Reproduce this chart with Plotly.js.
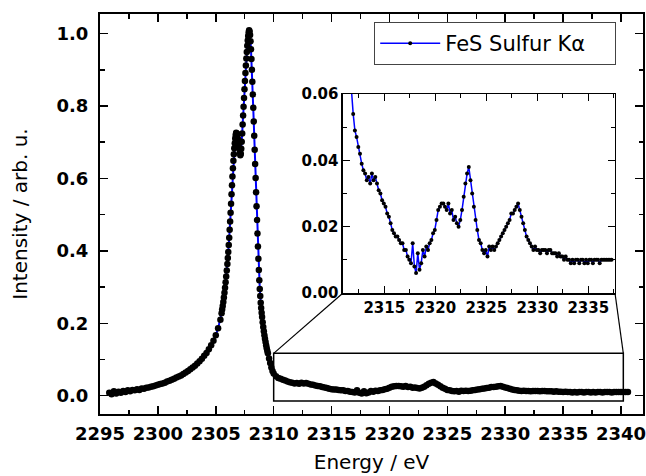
<!DOCTYPE html>
<html><head><meta charset="utf-8">
<script src="https://cdn.plot.ly/plotly-3.0.1.min.js"></script>
<style>html,body{margin:0;padding:0;background:#fff}#chart{width:646px;height:476px}</style>
</head><body><div id="chart"></div>
<script>
const seriesName = 'FeS Sulfur K\u03b1';
const energy = [
2295.8,2296.0,2296.2,2296.4,2296.6,2296.8,2297.0,2297.2,2297.4,2297.6,2297.8,2298.0,2298.2,2298.4,2298.6,2298.8,2299.0,2299.2,2299.4,2299.6,2299.8,
2300.0,2300.2,2300.4,2300.6,2300.8,2301.0,2301.2,2301.4,2301.6,2301.8,2302.0,2302.2,2302.4,2302.6,2302.8,2303.0,2303.2,2303.4,2303.6,2303.8,
2304.0,2304.2,2304.4,2304.6,2304.8,2305.0,2305.2,2305.4,2305.5,2305.55,2305.6,2305.65,2305.7,2305.75,2305.8,2305.85,2305.9,2305.95,
2306.0,2306.04,2306.08,2306.12,2306.16,2306.2,2306.24,2306.28,2306.32,2306.36,2306.4,2306.44,2306.48,2306.52,2306.56,2306.6,2306.64,2306.68,2306.72,2306.76,2306.8,2306.84,2306.88,2306.92,2306.96,
2307.0,2307.04,2307.08,2307.12,2307.16,2307.2,2307.24,2307.28,2307.32,2307.36,2307.4,2307.44,2307.48,2307.52,2307.56,2307.6,2307.64,2307.68,2307.72,2307.76,2307.8,2307.84,2307.88,2307.92,2307.96,
2308.0,2308.04,2308.08,2308.12,2308.16,2308.2,2308.24,2308.28,2308.32,2308.36,2308.4,2308.44,2308.48,2308.52,2308.56,2308.6,2308.64,2308.68,2308.72,2308.76,2308.8,2308.84,2308.88,2308.92,2308.96,
2309.0,2309.05,2309.1,2309.15,2309.2,2309.25,2309.3,2309.35,2309.4,2309.45,2309.5,2309.6,2309.7,2309.8,2309.9,
2310.0,2310.2,2310.4,2310.6,2310.8,2311.0,2311.2,2311.4,2311.6,2311.8,2312.0,2312.2,2312.4,2312.6,2312.8,2313.0,2313.2,2313.4,2313.6,2313.8,
2314.0,2314.2,2314.4,2314.6,2314.8,2315.0,2315.2,2315.4,2315.6,2315.8,2316.0,2316.2,2316.4,2316.6,2316.8,2317.0,2317.2,2317.4,2317.6,2317.8,
2318.0,2318.2,2318.4,2318.6,2318.8,2319.0,2319.2,2319.4,2319.6,2319.8,2320.0,2320.2,2320.4,2320.6,2320.8,2321.0,2321.2,2321.4,2321.6,2321.8,
2322.0,2322.2,2322.4,2322.6,2322.8,2323.0,2323.2,2323.4,2323.6,2323.8,2324.0,2324.2,2324.4,2324.6,2324.8,2325.0,2325.2,2325.4,2325.6,2325.8,
2326.0,2326.2,2326.4,2326.6,2326.8,2327.0,2327.2,2327.4,2327.6,2327.8,2328.0,2328.2,2328.4,2328.6,2328.8,2329.0,2329.2,2329.4,2329.6,2329.8,
2330.0,2330.2,2330.4,2330.6,2330.8,2331.0,2331.2,2331.4,2331.6,2331.8,2332.0,2332.2,2332.4,2332.6,2332.8,2333.0,2333.2,2333.4,2333.6,2333.8,
2334.0,2334.2,2334.4,2334.6,2334.8,2335.0,2335.2,2335.4,2335.6,2335.8,2336.0,2336.2,2336.4,2336.6,2336.8,2337.0,2337.2,2337.4,2337.6,2337.8,
2338.0,2338.2,2338.4,2338.6,2338.8,2339.0,2339.2,2339.4,2339.6,2339.8,2340.0,2340.2,2340.4,2340.6
];
const intensity = [
0.008,0.004,0.012,0.006,0.011,0.008,0.013,0.010,0.015,0.012,0.016,0.015,0.018,0.016,0.020,0.019,0.022,0.023,0.025,0.026,0.028,
0.030,0.032,0.034,0.036,0.039,0.041,0.044,0.047,0.050,0.053,0.056,0.060,0.064,0.068,0.073,0.078,0.083,0.089,0.095,0.102,
0.110,0.118,0.128,0.139,0.152,0.167,0.186,0.210,0.228,0.238,0.248,0.259,0.271,0.284,0.298,0.313,0.329,0.346,
0.364,0.380,0.397,0.416,0.436,0.458,0.481,0.505,0.530,0.556,0.581,0.605,0.628,0.649,0.667,0.683,0.697,0.710,0.720,0.726,0.724,0.716,0.722,0.708,0.697,
0.703,0.684,0.672,0.664,0.668,0.682,0.701,0.724,0.749,0.774,0.798,0.822,0.846,0.869,0.891,0.912,0.931,0.949,0.966,0.981,0.993,1.003,1.009,1.006,0.996,
0.979,0.957,0.930,0.900,0.867,0.832,0.795,0.757,0.718,0.679,0.640,0.601,0.562,0.523,0.485,0.448,0.412,0.378,0.347,0.319,0.295,0.275,0.257,0.242,0.229,
0.217,0.203,0.190,0.178,0.167,0.157,0.148,0.139,0.131,0.124,0.117,0.103,0.090,0.078,0.068,
0.061,0.054,0.049,0.047,0.044,0.042,0.039,0.037,0.036,0.034,0.035,0.033,0.036,0.034,0.035,0.033,0.031,0.030,0.028,0.027,
0.026,0.024,0.023,0.021,0.019,0.018,0.017,0.017,0.016,0.015,0.015,0.013,0.013,0.011,0.010,0.009,0.015,0.008,0.006,0.012,
0.007,0.009,0.013,0.011,0.014,0.013,0.015,0.016,0.018,0.019,0.022,0.025,0.026,0.027,0.027,0.026,0.025,0.027,0.024,0.025,
0.022,0.023,0.021,0.020,0.022,0.025,0.029,0.033,0.036,0.038,0.034,0.030,0.026,0.022,0.019,0.016,0.015,0.013,0.012,0.013,
0.011,0.014,0.013,0.014,0.013,0.014,0.015,0.016,0.017,0.018,0.019,0.020,0.021,0.022,0.024,0.024,0.025,0.026,0.027,0.025,
0.023,0.021,0.019,0.017,0.016,0.015,0.014,0.013,0.014,0.013,0.013,0.012,0.013,0.013,0.013,0.012,0.013,0.013,0.012,0.012,
0.012,0.011,0.012,0.011,0.011,0.010,0.011,0.010,0.010,0.009,0.010,0.009,0.010,0.010,0.009,0.010,0.010,0.009,0.010,0.009,
0.010,0.010,0.009,0.010,0.010,0.010,0.009,0.010,0.010,0.010,0.010,0.010,0.010,0.010
];
const zoomBoxX = [2310, 2340.2];
const zoomBoxY = [-0.0145, 0.117];
const insetTickVals = [2313.86, 2319.86, 2325.86, 2331.86, 2337.86];
const insetTickText = ['2315', '2320', '2325', '2330', '2335'];
const insetMinorVals = [2310.86, 2316.86, 2322.86, 2328.86, 2334.86, 2340.86];

const mainXRange = [2295, 2341.9];
const mainYRange = [-0.0505, 1.054];
const insetXDom = [0.4475, 0.9484];
const insetYDom = [0.3025, 0.8];

function px(v){ return (v - mainXRange[0]) / (mainXRange[1] - mainXRange[0]); }
function py(v){ return (v - mainYRange[0]) / (mainYRange[1] - mainYRange[0]); }

const font = 'DejaVu Sans, sans-serif';
const axisCommon = {
  showline: true, linecolor: '#000', linewidth: 2, mirror: 'ticks',
  ticks: 'inside', tickcolor: '#000', tickwidth: 1.5,
  showgrid: false, zeroline: false, ticklabeloverflow: 'allow'
};

const traces = [
  {x: energy, y: intensity, xaxis: 'x', yaxis: 'y', type: 'scatter', mode: 'lines+markers',
   line: {color: '#0000ff', width: 2}, marker: {color: '#000', size: 6.5}, showlegend: false, name: seriesName},
  {x: energy, y: intensity, xaxis: 'x2', yaxis: 'y2', type: 'scatter', mode: 'lines+markers',
   line: {color: '#0000ff', width: 1.5}, marker: {color: '#000', size: 4}, showlegend: true, name: seriesName}
];

const layout = {
  width: 646, height: 476,
  margin: {l: 100, r: 3, t: 14, b: 62},
  paper_bgcolor: '#fff', plot_bgcolor: '#fff',
  font: {family: font, color: '#000'},
  xaxis: Object.assign({}, axisCommon, {
    domain: [0, 1], anchor: 'y', range: mainXRange, tick0: 2295, dtick: 5, ticklen: 8,
    minor: {ticks: 'inside', dtick: 2.5, ticklen: 4.5, tickcolor: '#000', tickwidth: 1.5},
    tickfont: {size: 18, weight: 'bold', family: font}, ticklabelstandoff: 2,
    title: {text: 'Energy / eV', font: {size: 20, family: font}, standoff: 12}
  }),
  yaxis: Object.assign({}, axisCommon, {
    domain: [0, 1], anchor: 'x', range: mainYRange, tick0: 0, dtick: 0.2, tickformat: '.1f', ticklen: 8,
    minor: {ticks: 'inside', dtick: 0.1, ticklen: 4.5, tickcolor: '#000', tickwidth: 1.5},
    tickfont: {size: 18, weight: 'bold', family: font}, ticklabelstandoff: 6,
    title: {text: 'Intensity / arb. u.', font: {size: 20, family: font}, standoff: 24}
  }),
  xaxis2: Object.assign({}, axisCommon, {
    domain: insetXDom, anchor: 'y2', range: [2309, 2341], linewidth: 1.5,
    tickmode: 'array', tickvals: insetTickVals, ticktext: insetTickText, ticklen: 7,
    minor: {ticks: 'inside', tickvals: insetMinorVals, ticklen: 4, tickcolor: '#000', tickwidth: 1.2},
    tickfont: {size: 15, weight: 'bold', family: font}
  }),
  yaxis2: Object.assign({}, axisCommon, {
    domain: insetYDom, anchor: 'x2', range: [0, 0.06], linewidth: 1.5,
    tick0: 0, dtick: 0.02, tickformat: '.2f', ticklen: 7,
    minor: {ticks: 'inside', dtick: 0.01, ticklen: 4, tickcolor: '#000', tickwidth: 1.2},
    tickfont: {size: 15, weight: 'bold', family: font}
  }),
  legend: {x: 0.505, y: 0.98, xanchor: 'left', yanchor: 'top', bgcolor: '#fff', orientation: 'h',
    bordercolor: '#444', borderwidth: 1, itemwidth: 60, entrywidth: 165, entrywidthmode: 'pixels',
    font: {size: 21, family: font}},
  shapes: [
    {type: 'rect', xref: 'x', yref: 'y', x0: zoomBoxX[0], x1: zoomBoxX[1], y0: zoomBoxY[0], y1: zoomBoxY[1],
     line: {color: '#000', width: 1.5}},
    {type: 'line', xref: 'paper', yref: 'paper', x0: px(zoomBoxX[0]), y0: py(zoomBoxY[1]), x1: insetXDom[0], y1: insetYDom[0],
     line: {color: '#000', width: 1.2}},
    {type: 'line', xref: 'paper', yref: 'paper', x0: px(zoomBoxX[1]), y0: py(zoomBoxY[1]), x1: insetXDom[1], y1: insetYDom[0],
     line: {color: '#000', width: 1.2}}
  ]
};

Plotly.newPlot('chart', traces, layout, {displayModeBar: false, staticPlot: true});
</script>
</body></html>
